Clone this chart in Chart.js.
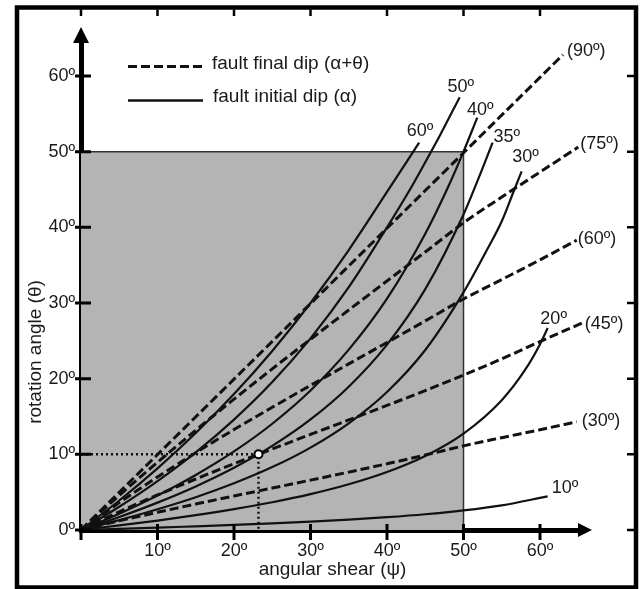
<!DOCTYPE html>
<html>
<head>
<meta charset="utf-8">
<script src="https://cdn.jsdelivr.net/npm/chart.js@4.4.0/dist/chart.umd.min.js"></script>
<style>
  html, body { margin: 0; padding: 0; background: #fff; }
</style>
</head>
<body>
<canvas id="myChart" width="640" height="589"></canvas>
<script>
// angular shear (psi) against rotation angle (theta), degrees

// solid curves: fault initial dip (alpha)
var psi10 = [0, 5, 10, 15, 20, 25, 30, 35, 40, 45, 50, 55, 60, 61];
var theta10 = [0, 0.15, 0.31, 0.49, 0.67, 0.88, 1.11, 1.37, 1.69, 2.08, 2.59, 3.26, 4.24, 4.45];
var psi20 = [0, 5, 10, 15, 20, 25, 30, 35, 40, 45, 50, 55, 58, 60, 61];
var theta20 = [0, 0.6, 1.25, 1.96, 2.76, 3.67, 4.74, 6.04, 7.66, 9.78, 12.74, 17.16, 21.08, 24.56, 26.7];
var psi30 = [0, 5, 10, 15, 20, 25, 30, 35, 40, 45, 50, 53, 55, 56.5, 57.6];
var theta30 = [0, 1.3, 2.74, 4.33, 6.17, 8.31, 10.89, 14.1, 18.24, 23.79, 31.4, 36.9, 40.8, 44.6, 47.4];
var psi35 = [0, 5, 10, 15, 20, 25, 30, 35, 40, 45, 50, 52, 53.8];
var theta35 = [0, 1.72, 3.62, 5.76, 8.22, 11.11, 14.61, 18.94, 24.5, 31.83, 41.7, 46.57, 51.2];
var psi40 = [0, 5, 10, 15, 20, 25, 30, 35, 40, 45, 48, 50, 51.8];
var theta40 = [0, 2.16, 4.56, 7.27, 10.38, 14.04, 18.43, 23.83, 30.57, 39.15, 45.36, 50, 54.5];
var psi50 = [0, 5, 10, 15, 20, 25, 30, 35, 40, 43, 45, 47, 49.5];
var theta50 = [0, 3.07, 6.46, 10.26, 14.59, 19.55, 25.33, 32.09, 40, 45, 48.6, 52.3, 57.2];
var psi60 = [0, 5, 10, 15, 20, 25, 30, 35, 40, 44.2];
var theta60 = [0, 3.9, 8.15, 12.81, 17.96, 23.66, 30, 37, 44.67, 51.2];

// dashed curves: fault final dip (alpha + theta)
var psiF30 = [0, 5, 10, 15, 20, 25, 30, 35, 40, 45, 50, 55, 60, 64.8];
var thetaF30 = [0, 1.21, 2.34, 3.43, 4.5, 5.54, 6.59, 7.65, 8.75, 9.9, 11.12, 12.2, 13.25, 14.3];
var psiF45 = [0, 5, 10, 15, 20, 25, 30, 35, 40, 45, 50, 55, 60, 65.6];
var thetaF45 = [0, 2.41, 4.63, 6.74, 8.75, 10.7, 12.63, 14.54, 16.46, 18.43, 20.47, 22.62, 24.9, 27.4];
var psiF60 = [0, 5, 10, 15, 20, 25, 30, 35, 40, 45, 50, 55, 60, 64.8];
var thetaF60 = [0, 3.62, 7.01, 10.21, 13.27, 16.22, 19.11, 21.95, 24.78, 27.63, 30.52, 33.1, 35.7, 38.3];
var psiF75 = [0, 5, 10, 15, 20, 25, 30, 35, 40, 45, 50, 55, 60, 65];
var thetaF75 = [0, 4.57, 8.95, 13.18, 17.29, 21.29, 25.21, 29.07, 32.91, 36.74, 40.59, 44.0, 47.3, 50.6];
var psiF90 = [0, 63];
var thetaF90 = [0, 62.8];

var initialDips = ['10º', '20º', '30º', '35º', '40º', '50º', '60º'];
var finalDips = ['(30º)', '(45º)', '(60º)', '(75º)', '(90º)'];
var legendLabels = ['fault final dip (α+θ)', 'fault initial dip (α)'];
var angleTicks = [0, 10, 20, 30, 40, 50, 60];

// shaded field, example point and its guide lines
var boxPsi = [0, 50, 50];
var boxTheta = [50, 50, 0];
var guidePsi = [0, 23.2, 23.2];
var guideTheta = [10, 10, 0];
var markPsi = [23.2];
var markTheta = [10];

var FONT = "'Liberation Sans', Arial, Helvetica, sans-serif";
var INK = '#1a1a1a';

function pts(xs, ys) {
  return xs.map(function (v, i) { return { x: v, y: ys[i] }; });
}

var solidSets = [[psi10, theta10], [psi20, theta20], [psi30, theta30], [psi35, theta35],
  [psi40, theta40], [psi50, theta50], [psi60, theta60]];
var dashedSets = [[psiF30, thetaF30], [psiF45, thetaF45], [psiF60, thetaF60],
  [psiF75, thetaF75], [psiF90, thetaF90]];

var datasets = [];
datasets.push({
  data: pts(markPsi, markTheta), showLine: false, order: 0,
  pointRadius: 4, pointBorderWidth: 2, pointBackgroundColor: '#fff', pointBorderColor: '#000'
});
datasets.push({
  data: pts(guidePsi, guideTheta), order: 1,
  borderColor: '#111', borderWidth: 2.5, borderDash: [2, 3], pointRadius: 0
});
solidSets.forEach(function (s, i) {
  datasets.push({
    label: initialDips[i], data: pts(s[0], s[1]), order: 2,
    borderColor: '#111', borderWidth: 2.2, pointRadius: 0, cubicInterpolationMode: 'monotone'
  });
});
dashedSets.forEach(function (s, i) {
  datasets.push({
    label: finalDips[i], data: pts(s[0], s[1]), order: 2,
    borderColor: '#111', borderWidth: 3, borderDash: [9, 4], pointRadius: 0, cubicInterpolationMode: 'monotone'
  });
});
datasets.push({
  data: pts(boxPsi, boxTheta), order: 10, fill: 'origin',
  backgroundColor: '#b4b4b4', borderColor: '#333', borderWidth: 1.5, pointRadius: 0
});

// where each curve label sits relative to the end of its curve (pixels)
var labelOffsets = {
  '10º': [4, -8, 'left'], '20º': [6, -9, 'center'], '30º': [4, -14, 'center'],
  '35º': [1, -6, 'left'], '40º': [3, -8, 'center'], '50º': [1, -10, 'center'],
  '60º': [1, -12, 'center'], '(90º)': [4, -4, 'left'], '(75º)': [2, -3, 'left'],
  '(60º)': [1, -1, 'left'], '(45º)': [2, 1, 'left'], '(30º)': [5, -1, 'left']
};

var decor = {
  id: 'decor',
  afterDraw: function (chart) {
    var c = chart.ctx, x = chart.scales.x, y = chart.scales.y;
    var left = chart.chartArea.left, bottom = chart.chartArea.bottom;
    var top = chart.chartArea.top, right = chart.chartArea.right;
    c.save();

    // outer frame with inward ticks
    c.strokeStyle = '#000';
    c.lineWidth = 4.5;
    c.strokeRect(17, 7.5, 619, 580);
    c.lineWidth = 2.5;
    c.beginPath();
    angleTicks.forEach(function (v) {
      var px = x.getPixelForValue(v), py = y.getPixelForValue(v);
      c.moveTo(px, 9.5); c.lineTo(px, 16);
      c.moveTo(634, py); c.lineTo(627, py);
    });
    c.stroke();

    // axis ticks crossing the axes
    c.lineWidth = 3;
    c.beginPath();
    angleTicks.forEach(function (v) {
      var px = x.getPixelForValue(v), py = y.getPixelForValue(v);
      c.moveTo(px, bottom - 6); c.lineTo(px, bottom + 10);
      c.moveTo(left - 6, py); c.lineTo(left + 10, py);
    });
    c.stroke();

    // arrow heads
    c.fillStyle = '#000';
    c.beginPath();
    c.moveTo(left, top - 9); c.lineTo(left - 8, top + 7); c.lineTo(left + 8, top + 7);
    c.closePath(); c.fill();
    c.beginPath();
    c.moveTo(right + 8, bottom); c.lineTo(right - 6, bottom - 7); c.lineTo(right - 6, bottom + 7);
    c.closePath(); c.fill();

    // legend
    c.strokeStyle = '#111';
    c.lineWidth = 3;
    c.setLineDash([9, 4]);
    c.beginPath(); c.moveTo(128, 66.5); c.lineTo(203, 66.5); c.stroke();
    c.setLineDash([]);
    c.lineWidth = 2.5;
    c.beginPath(); c.moveTo(128, 100.5); c.lineTo(203, 100.5); c.stroke();
    c.fillStyle = INK;
    c.font = '19px ' + FONT;
    c.textAlign = 'left';
    c.textBaseline = 'alphabetic';
    c.fillText(legendLabels[0], 212, 69);
    c.fillText(legendLabels[1], 213, 102);

    // curve labels at the end of each curve
    c.font = '18px ' + FONT;
    c.textBaseline = 'middle';
    chart.data.datasets.forEach(function (ds, i) {
      var off = ds.label && labelOffsets[ds.label];
      if (!off) return;
      var pts = chart.getDatasetMeta(i).data;
      var end = pts[pts.length - 1];
      c.textAlign = off[2];
      c.fillText(ds.label, end.x + off[0], end.y + off[1]);
    });

    // y axis title, set lower than the axis middle as in the figure
    c.translate(35.5, 352);
    c.rotate(-Math.PI / 2);
    c.textAlign = 'center';
    c.font = '19px ' + FONT;
    c.fillText('rotation angle (θ)', 0, 0);
    c.restore();
  }
};

new Chart(document.getElementById('myChart'), {
  type: 'line',
  data: { datasets: datasets },
  options: {
    responsive: false,
    animation: false,
    layout: { padding: { top: 36, right: 56, bottom: 0, left: 0 } },
    plugins: { legend: { display: false }, tooltip: { enabled: false } },
    scales: {
      x: {
        type: 'linear', min: 0, max: 65.75, z: 1,
        afterFit: function (s) { s.height = 59; },
        afterBuildTicks: function (s) { s.ticks = angleTicks.map(function (v) { return { value: v }; }); },
        grid: { display: false, drawTicks: false },
        border: { display: true, width: 5, color: '#000' },
        ticks: {
          padding: 10, color: INK, maxRotation: 0, autoSkip: false,
          font: { family: FONT, size: 18 },
          callback: function (v) { return v === 0 ? '' : v + 'º'; }
        },
        title: {
          display: true, text: 'angular shear (ψ)', color: INK,
          font: { family: FONT, size: 19 }, padding: { top: 0, bottom: 7.5 }
        }
      },
      y: {
        type: 'linear', min: 0, max: 65.28, z: 1,
        afterFit: function (s) { s.width = 81; },
        afterBuildTicks: function (s) { s.ticks = angleTicks.map(function (v) { return { value: v }; }); },
        grid: { display: false, drawTicks: false },
        border: { display: true, width: 5, color: '#000' },
        ticks: {
          padding: 6, color: INK, autoSkip: false,
          font: { family: FONT, size: 18 },
          callback: function (v) { return v + 'º'; }
        }
      }
    }
  },
  plugins: [decor]
});
</script>
</body>
</html>
